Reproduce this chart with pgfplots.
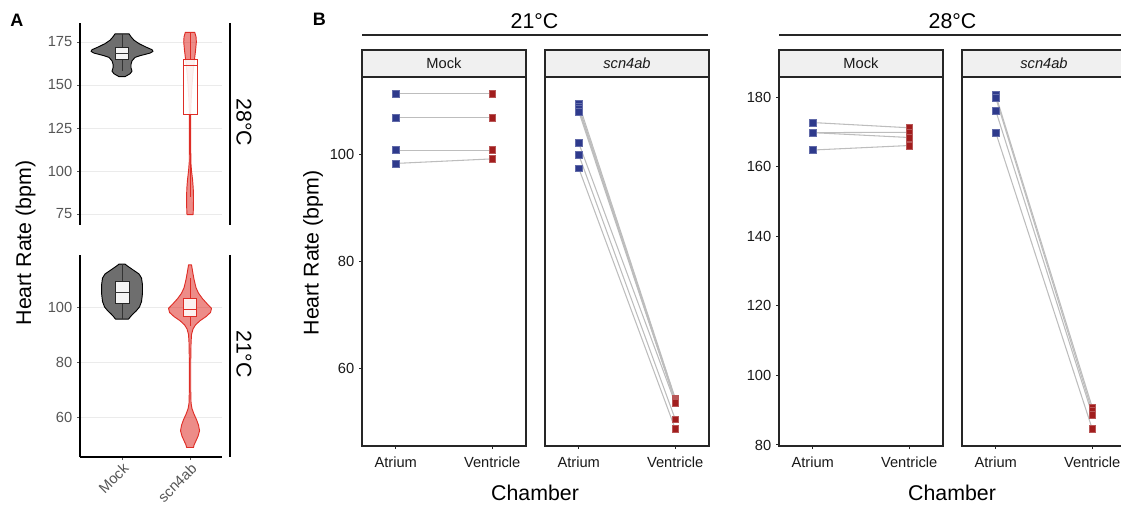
\documentclass[border=0pt]{standalone}
\usepackage{fontspec}
\setmainfont{Liberation Sans}
\usepackage{pgfplots}
\pgfplotsset{compat=1.18}
\definecolor{navy}{HTML}{2E3A8C}
\definecolor{dred}{HTML}{A11D1D}
\definecolor{vred}{HTML}{DE2D26}
\definecolor{vgray}{HTML}{6E6E6E}
\definecolor{stripbg}{HTML}{F0F0F0}
\definecolor{gridc}{HTML}{EBEBEB}
\definecolor{tickc}{HTML}{555555}
\definecolor{linec}{HTML}{BDBDBD}
\newcommand\fs[1]{\fontsize{#1}{#1}\selectfont}
\pgfplotsset{
 every axis/.append style={/pgf/number format/assume math mode=true, scale only axis, anchor=south west},
 Apanel/.style={width=106.5pt, height=151.5pt, xmin=0.382, xmax=2.47,
   axis line style={line width=1.1pt, -}, ymajorgrids, grid style={gridc, line width=0.6pt},
   tick style={tickc, line width=0.6pt}, major tick length=2.25pt, tick align=outside,
   ticklabel style={font=\fs{11}, text=tickc}},
 Bpanel/.style={width=123pt, height=276.75pt, xmin=0.65, xmax=2.35, xtick={1,2},
   xticklabels={Atrium,Ventricle}, axis line style={line width=0.9pt, draw=black!85},
   tick style={black!85, line width=0.7pt}, major tick length=2.25pt, tick align=outside,
   tick pos=left, ticklabel style={font=\fs{11}, text=black!90},
   xticklabel style={yshift=-2pt}},
 conn/.style={linec, line width=0.8pt},
 atr/.style={only marks, mark=square*, mark size=2.6pt, mark options={fill=navy, draw=navy!75!white, line width=0.4pt}},
 ven/.style={only marks, mark=square*, mark size=2.6pt, mark options={fill=dred, draw=dred!75!white, line width=0.4pt}},
 gviol/.style={fill=vgray, draw=black, line width=0.7pt, line join=round},
 rviol/.style={fill=vred, fill opacity=0.55, draw=vred, line width=0.7pt, line join=round},
 gbox/.style={fill=white, fill opacity=0.92, draw=black!85, line width=0.7pt},
 rbox/.style={fill=white, fill opacity=0.88, draw=vred, line width=0.7pt},
 gwh/.style={black!80, line width=0.7pt},
 rwh/.style={vred, line width=0.7pt},
}
\begin{document}
\begin{tikzpicture}
\useasboundingbox (0,0) rectangle (840.75pt,378pt);
% ---------- Panel A top (28 C) ----------
\begin{axis}[Apanel, at={(60pt,209.25pt)}, ymin=68.6, ymax=186, axis x line=none, axis y line*=left,
  ytick={75,100,125,150,175}, xtick=\empty]
\addplot[gviol] coordinates {(1.103,179.7)(1.132,178)(1.176,176)(1.25,174)(1.353,172)(1.441,170.5)(1.456,169.5)(1.412,168.5)(1.265,167)(1.191,166)(1.147,164)(1.132,162)(1.132,160)(1.147,158)(1.118,156.5)(1.074,155.5)(1.044,154.8)
 (0.956,154.8)(0.926,155.5)(0.882,156.5)(0.853,158)(0.868,160)(0.868,162)(0.853,164)(0.809,166)(0.735,167)(0.588,168.5)(0.544,169.5)(0.559,170.5)(0.647,172)(0.75,174)(0.824,176)(0.868,178)(0.897,179.7)} -- cycle;
\addplot[gwh] coordinates {(1,172)(1,179.7)};
\addplot[gwh] coordinates {(1,165)(1,158)};
\addplot[gbox] coordinates {(0.902,165)(1.098,165)(1.098,172)(0.902,172)} -- cycle;
\addplot[gwh] coordinates {(0.902,168.5)(1.098,168.5)};
\addplot[rviol] coordinates {(2.069,180.6)(2.088,178)(2.093,175)(2.081,170)(2.066,165)(2.051,160)(2.029,150)(2.015,140)(2.009,133)(2.009,120)(2.012,105)(2.022,100)(2.037,95)(2.047,90)(2.051,85)(2.05,80)(2.047,76)(2.044,74.6)
 (1.956,74.6)(1.953,76)(1.95,80)(1.949,85)(1.953,90)(1.963,95)(1.978,100)(1.988,105)(1.991,120)(1.991,133)(1.985,140)(1.971,150)(1.949,160)(1.934,165)(1.919,170)(1.907,175)(1.912,178)(1.931,180.6)} -- cycle;
\addplot[rwh] coordinates {(2,165)(2,180.6)};
\addplot[rwh] coordinates {(2,133)(2,85)};
\addplot[rbox] coordinates {(1.897,133)(2.103,133)(2.103,165)(1.897,165)} -- cycle;
\addplot[rwh] coordinates {(1.897,161.5)(2.103,161.5)};
\end{axis}
% ---------- Panel A bottom (21 C) ----------
\begin{axis}[Apanel, at={(60pt,35.25pt)}, ymin=45.45, ymax=118.9, axis lines*=left,
  ytick={60,80,100}, xtick={1,2}, xticklabels={Mock,scn4ab},
  xticklabel style={rotate=45, anchor=north east, inner sep=1pt}]
\addplot[gviol] coordinates {(1.044,115.6)(1.074,115)(1.132,114)(1.191,113)(1.25,112)(1.287,110.5)(1.301,108)(1.301,105)(1.287,102)(1.257,100)(1.206,98.5)(1.162,97.5)(1.125,96.5)(1.096,95.6)
 (0.904,95.6)(0.875,96.5)(0.838,97.5)(0.794,98.5)(0.743,100)(0.713,102)(0.699,105)(0.699,108)(0.713,110.5)(0.75,112)(0.809,113)(0.868,114)(0.926,115)(0.956,115.6)} -- cycle;
\addplot[gwh] coordinates {(1,109.2)(1,115.6)};
\addplot[gwh] coordinates {(1,101.3)(1,95.6)};
\addplot[gbox] coordinates {(0.897,101.3)(1.103,101.3)(1.103,109.2)(0.897,109.2)} -- cycle;
\addplot[gwh] coordinates {(0.897,105.3)(1.103,105.3)};
\addplot[rviol] coordinates {(2.022,115.3)(2.037,113)(2.059,110)(2.088,107)(2.125,105)(2.184,103)(2.257,101)(2.316,99.5)(2.301,98)(2.235,96.5)(2.147,95)(2.081,93.5)(2.044,92)(2.022,90)(2.015,87)(2.01,80)(2.01,70)(2.015,65)(2.029,63)(2.059,61)(2.096,59)(2.125,57)(2.14,55)(2.118,53)(2.081,51)(2.059,49.8)(2.051,48.9)
 (1.949,48.9)(1.941,49.8)(1.919,51)(1.882,53)(1.86,55)(1.875,57)(1.904,59)(1.941,61)(1.971,63)(1.985,65)(1.99,70)(1.99,80)(1.985,87)(1.978,90)(1.956,92)(1.919,93.5)(1.853,95)(1.765,96.5)(1.699,98)(1.684,99.5)(1.743,101)(1.816,103)(1.875,105)(1.912,107)(1.941,110)(1.963,113)(1.978,115.3)} -- cycle;
\addplot[rwh] coordinates {(2,103.2)(2,110.4)};
\addplot[rwh] coordinates {(2,96.7)(2,93)};
\addplot[rbox] coordinates {(1.902,96.7)(2.098,96.7)(2.098,103.2)(1.902,103.2)} -- cycle;
\addplot[rwh] coordinates {(1.902,99.2)(2.098,99.2)};
\end{axis}
% ---------- Panel B 21 C Mock ----------
\begin{axis}[Bpanel, at={(271.5pt,43.5pt)}, ymin=45.6, ymax=114.55, ytick={60,80,100}]
\addplot[conn] coordinates {(1,111.4)(2,111.4)};
\addplot[conn] coordinates {(1,106.9)(2,106.9)};
\addplot[conn] coordinates {(1,100.9)(2,100.9)};
\addplot[conn] coordinates {(1,98.4)(2,99.25)};
\addplot[atr] coordinates {(1,111.4)(1,106.9)(1,100.9)(1,98.4)};
\addplot[ven] coordinates {(2,111.4)(2,106.9)(2,100.9)(2,99.25)};
\end{axis}
% ---------- Panel B 21 C scn4ab ----------
\begin{axis}[Bpanel, at={(408.75pt,43.5pt)}, ymin=45.6, ymax=114.55, ytick=\empty]
\addplot[conn] coordinates {(1,109.6)(2,54.5)};
\addplot[conn] coordinates {(1,109.0)(2,54.3)};
\addplot[conn] coordinates {(1,108.6)(2,54.1)};
\addplot[conn] coordinates {(1,108.1)(2,53.9)};
\addplot[conn] coordinates {(1,102.2)(2,53.6)};
\addplot[conn] coordinates {(1,100.0)(2,50.6)};
\addplot[conn] coordinates {(1,97.5)(2,48.8)};
\addplot[atr] coordinates {(1,109.6)(1,109.0)(1,108.6)(1,108.1)(1,102.2)(1,100.0)(1,97.5)};
\addplot[ven] coordinates {(2,54.5)(2,54.3)(2,54.1)(2,53.9)(2,53.6)(2,50.6)(2,48.8)};
\end{axis}
% ---------- Panel B 28 C Mock ----------
\begin{axis}[Bpanel, at={(584.25pt,43.5pt)}, ymin=79.7, ymax=185.8, ytick={80,100,120,140,160,180}]
\addplot[conn] coordinates {(1,172.7)(2,171.2)};
\addplot[conn] coordinates {(1,169.8)(2,169.9)};
\addplot[conn] coordinates {(1,169.8)(2,168.4)};
\addplot[conn] coordinates {(1,164.8)(2,166.1)};
\addplot[atr] coordinates {(1,172.7)(1,169.8)(1,169.8)(1,164.8)};
\addplot[ven] coordinates {(2,171.2)(2,169.9)(2,168.4)(2,166.1)};
\end{axis}
% ---------- Panel B 28 C scn4ab ----------
\begin{axis}[Bpanel, at={(721.5pt,43.5pt)}, ymin=79.7, ymax=185.8, ytick=\empty]
\addplot[conn] coordinates {(1,180.6)(2,90.8)};
\addplot[conn] coordinates {(1,179.8)(2,89.7)};
\addplot[conn] coordinates {(1,176.1)(2,88.7)};
\addplot[conn] coordinates {(1,169.8)(2,84.6)};
\addplot[atr] coordinates {(1,180.6)(1,179.8)(1,176.1)(1,169.8)};
\addplot[ven] coordinates {(2,90.8)(2,89.7)(2,88.7)(2,84.6)};
\end{axis}
% ---------- strips B ----------
\foreach \xa/\xb/\lab in {271.5/394.5/Mock, 408.75/531.75/{\itshape scn4ab}, 584.25/707.25/Mock, 721.5/844.5/{\itshape scn4ab}}{
  \draw[fill=stripbg, draw=black!85, line width=0.9pt] (\xa pt,320.25pt) rectangle (\xb pt,340.5pt);
  \node[font=\fs{11}, text=black!90] at ({(\xa+\xb)/2*1pt},330.4pt) {\lab};
}
\draw[black!85, line width=0.8pt] (271.5pt,351.75pt) -- (531pt,351.75pt);
\draw[black!85, line width=0.8pt] (584.25pt,351.75pt) -- (845pt,351.75pt);
\node[font=\fs{16}, anchor=base] at (400.9pt,356.8pt) {21°C};
\node[font=\fs{16}, anchor=base] at (714.4pt,356.8pt) {28°C};
\node[font=\fs{16}, anchor=base] at (401.25pt,3pt) {Chamber};
\node[font=\fs{16}, anchor=base] at (714pt,3pt) {Chamber};
\node[font=\fs{16}, anchor=base, rotate=90] at (238.9pt,188.25pt) {Heart Rate (bpm)};
% ---------- strips A ----------
\draw[black, line width=1.1pt] (172.5pt,360.75pt) -- (172.5pt,209.25pt);
\draw[black, line width=1.1pt] (172.5pt,186.75pt) -- (172.5pt,35.25pt);
\node[font=\fs{16}, anchor=base, rotate=-90] at (177.5pt,286.1pt) {28°C};
\node[font=\fs{16}, anchor=base, rotate=-90] at (177.5pt,112.5pt) {21°C};
\node[font=\fs{16}, anchor=base, rotate=90] at (23.25pt,195.75pt) {Heart Rate (bpm)};
% ---------- panel letters ----------
\node[font=\fs{13.5}\bfseries, anchor=base west, inner sep=0pt] at (7.5pt,357.9pt) {A};
\node[font=\fs{13.5}\bfseries, anchor=base west, inner sep=0pt] at (234.5pt,358.5pt) {B};
\end{tikzpicture}
\end{document}
